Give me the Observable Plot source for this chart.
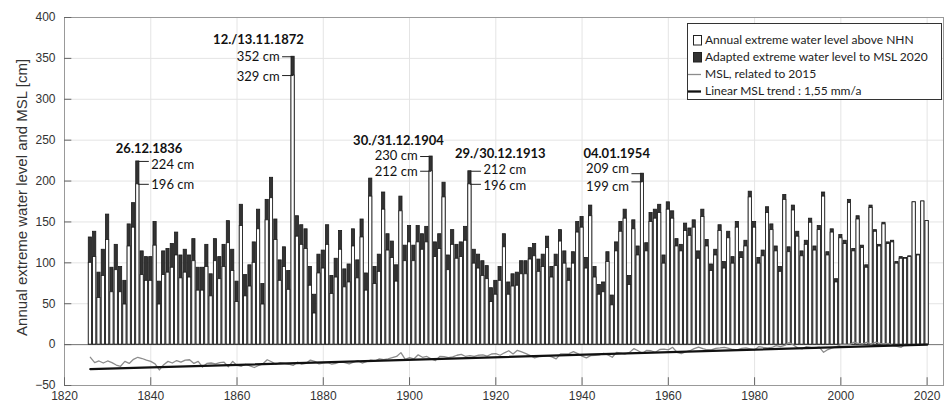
<!DOCTYPE html>
<html><head><meta charset="utf-8">
<script src="https://cdn.jsdelivr.net/npm/d3@7"></script>
<script src="https://cdn.jsdelivr.net/npm/@observablehq/plot@0.6"></script>
<style>
body{margin:0;background:#fff;}
#wrap{position:relative;width:946px;height:408px;overflow:hidden;}
#legend{position:absolute;left:687px;top:23px;width:255px;height:77px;border:1px solid #333;background:#fff;box-sizing:border-box;font-family:Lato,"Open Sans",sans-serif;font-size:12px;color:#222;}
#legend .row{position:absolute;left:0;height:16px;line-height:16px;white-space:nowrap;}
#legend .row span{position:absolute;left:17px;top:0;}
#legend .sym{position:absolute;}
</style></head><body>
<div id="wrap"></div>
<script>
// hydrological years 1826..2020
const firstYear = 1826, lastYear = 2020;
const rawLevel = [100,107,57,84,128,64,91,64,49,120,143,196,85,78,78,121,49,85,88,94,
109,81,88,82,102,66,66,95,59,102,80,95,124,90,52,145,59,71,100,141,
49,152,179,128,78,95,67,329,132,122,117,72,38,87,93,122,62,82,116,70,
76,120,81,131,66,181,74,89,165,115,106,77,163,102,125,102,125,116,125,212,
107,117,180,91,122,105,107,127,196,99,93,84,80,52,61,78,119,61,71,72,
86,86,104,108,89,95,118,82,96,126,99,78,99,137,143,93,157,82,61,64,
101,48,114,138,154,73,141,109,199,114,150,154,161,99,165,154,120,114,139,133,
143,105,156,120,90,109,139,93,130,99,143,106,120,180,143,99,108,161,140,114,
89,177,113,164,132,108,122,149,115,140,181,109,137,76,130,123,173,114,153,118,
94,167,138,120,147,123,125,99,105,105,107,174,109,175,151];
const adaptedLevel = [131,138,88,116,159,94,122,95,78,147,173,224,114,107,107,150,77,114,117,123,
137,109,116,109,129,94,94,122,86,129,107,122,151,116,77,171,85,97,125,165,
74,177,204,153,103,119,90,352,157,146,141,95,61,110,115,146,84,105,139,92,
98,141,103,153,87,203,95,110,186,135,126,97,181,121,145,121,145,135,144,230,
125,135,198,109,140,122,125,144,212,116,110,102,96,69,78,95,135,76,86,88,
102,102,118,123,104,110,132,95,110,140,114,93,113,150,156,106,170,95,73,76,
113,60,125,150,165,84,152,120,209,124,161,165,171,109,174,163,129,122,148,142,
152,114,165,128,98,116,146,101,138,107,150,113,127,187,150,106,115,168,147,120,
95,183,119,170,138,114,127,154,120,145,186,113,141,80,134,127,177,117,157,121,
97,170,140,122,149,125,127,101,107,106,108,174,110,175,151];
// mean sea level, related to 2015
const mslFirstYear = 1826;
const mslValue = [-15.5,-22,-20,-22.5,-20,-22,-25,-26.5,-20.5,-23,-18,-15.5,-17,-19,-20.5,-23.5,-31,-24.5,-20.5,-22.5,
-19.5,-21.5,-19,-18.5,-23,-20.5,-27.5,-23,-22.5,-23.5,-22,-21.5,-27,-20.5,-25.5,-26.5,-24,-26,-28,-25.5,
-23.5,-18.5,-21,-24,-22,-23,-24,-25.5,-21.5,-24,-22.8,-19,-20.5,-23.5,-22.5,-22,-24,-22.8,-21,-22,
-23.5,-21.5,-19.6,-22.5,-20.8,-19,-20,-17.5,-18.5,-17.5,-16,-14.5,-9.8,-18,-16,-17.5,-12.5,-15.5,-14.5,-17.5,
-19.6,-14.5,-14.7,-16,-15,-13,-12,-14.5,-13.5,-14.5,-13,-12.5,-14,-11.5,-11,-13,-10,-7.5,-11.4,-7,
-9,-11,-13.5,-16.3,-14.7,-14.5,-13.4,-15,-17.5,-11.4,-11.4,-11,-8.5,-11,-14,-16.3,-13.5,-13,-12.5,-10.6,
-12.5,-15.5,-9.5,-10.5,-11.5,-9.5,-5,-7.5,-10.6,-7,-7.5,-9.4,-6,-5.5,-6.5,-3.3,-9.4,-11,-9,-7.5,
-5,-3,-5,-6.3,-6.5,-4.5,-4,-3.3,-4.5,-6,-6.5,-4.5,-4.1,-5.3,-6.5,-2.4,-3.3,-4,-3.5,-1.2,
-2.4,-1,2.5,-0.5,-4,-5.3,-2.4,-3.5,-4.1,-3,-9.4,-6,-4,-2.4,0,0.4,0,2.9,1.5,0.8,
2.9,0.5,2.9,1.5,0.8,1.5,-1,-2,-3.3,0.8];
// linear MSL trend 1,55 mm/a
const trendYears = [1826, 2020];
const trendValues = [-30, 0];
// axis ticks
const xTickValues = [1820,1840,1860,1880,1900,1920,1940,1960,1980,2000,2020];
const yTickValues = [-50,0,50,100,150,200,250,300,350,400];
// storm surge annotations
const eventYears = [1837, 1873, 1905, 1914, 1954];
const eventNames = ["26.12.1836", "12./13.11.1872", "30./31.12.1904", "29./30.12.1913", "04.01.1954"];
const eventAdapted = [224, 352, 230, 212, 209];
const eventRaw = [196, 329, 212, 196, 199];
const legendLabels = ["Annual extreme water level above NHN","Adapted extreme water level to MSL 2020","MSL, related to 2015","Linear MSL trend : 1,55 mm/a"];

const bars = rawLevel.map((r,i)=>({year:firstYear+i, raw:r, adapted:adaptedLevel[i]}));
const msl = mslValue.map((v,i)=>({year:mslFirstYear+i, v}));
const trend = trendYears.map((y,i)=>({year:y, v:trendValues[i]}));
const events = eventYears.map((y,i)=>({year:y, name:eventNames[i], hi:eventAdapted[i], lo:eventRaw[i]}));

// label layout: side (+1 right, -1 left), px offsets
const layout = [
  {side: 1, ndx: -22, ndy: -13, hdy: 3, ldy: 1},
  {side:-1, ndx: -80, ndy: -17, hdy: 0, ldy: 1},
  {side:-1, ndx: -78, ndy: -16, hdy: -1, ldy: 1},
  {side: 1, ndx: -15, ndy: -17, hdy: -1, ldy: 1.5},
  {side:-1, ndx: -59, ndy: -20, hdy: -4.5, ldy: 4.5}
];
const ev = events.map((e,i)=>({...e, ...layout[i]}));
const valueLabels = (arr)=>arr.flatMap(e=>[{year:e.year,v:e.hi,t:e.hi+" cm",dy:e.hdy},{year:e.year,v:e.lo,t:e.lo+" cm",dy:e.ldy}]);
const leaders = ev.flatMap(e=>[e.hi,e.lo].map(v=>({x1:e.year, x2:e.year+e.side*2.55, v})));

// generic render helper: apply per-datum pixel offsets
const offsetRender = (getOff)=>function(index, scales, values, dims, ctx, next){
  const g = next(index, scales, values, dims, ctx);
  d3.select(g).selectAll("text").each(function(_,k){
    const i = index[k];
    const [ox, oy] = getOff(i);
    d3.select(this).attr("transform", `translate(${values.x[i]+ox},${values.y[i]+oy})`);
  });
  return g;
};

const annFont = "Lato, 'Open Sans', sans-serif";
const vR = valueLabels(ev.filter(e=>e.side>0));
const vL = valueLabels(ev.filter(e=>e.side<0));
const chart = Plot.plot({
  width:946, height:408,
  marginLeft:64, marginRight:3, marginTop:17, marginBottom:23,
  x:{domain:[1820, 2023.8]},
  y:{domain:[-50, 400]},
  style:{fontFamily:"'Liberation Sans', Arial, sans-serif", fontSize:"12px", color:"#333", background:"#fff"},
  marks:[
    Plot.ruleY(yTickValues, {stroke:"#e4e4e4"}),
    Plot.ruleX(xTickValues, {stroke:"#e4e4e4"}),
    Plot.ruleY([0], {stroke:"#777", strokeWidth:1}),
    Plot.rect(bars, {x1:d=>d.year-0.37, x2:d=>d.year+0.37, y1:0, y2:"adapted", fill:"#333", stroke:"#1a1a1a", strokeWidth:0.8}),
    Plot.rect(bars, {x1:d=>d.year-0.37, x2:d=>d.year+0.37, y1:0, y2:"raw", fill:"#fff", stroke:"#1a1a1a", strokeWidth:0.8}),
    Plot.line(msl, {x:"year", y:"v", stroke:"#8c8c8c", strokeWidth:1.3}),
    Plot.line(trend, {x:"year", y:"v", stroke:"#111", strokeWidth:2.3}),
    Plot.frame({stroke:"#999"}),
    Plot.ruleX(xTickValues, {y1:-50, y2:-40.5, stroke:"#666"}),
    Plot.ruleY(yTickValues, {x1:1820, x2:1821.7, stroke:"#666"}),
    Plot.axisX({ticks:xTickValues, tickSize:0, tickPadding:6, tickFormat:d=>String(d), label:null, fill:"#333"}),
    Plot.axisY({ticks:yTickValues, tickSize:0, tickPadding:9, label:null, fill:"#333"}),
    Plot.text(["Annual extreme water level and MSL [cm]"], {x:1820, y:180, dx:-42, rotate:-90, fontSize:15, fill:"#333", text:d=>d}),
    // annotations
    Plot.link(leaders, {x1:"x1", x2:"x2", y1:"v", y2:"v", stroke:"#222", strokeWidth:1}),
    Plot.text(vR, {x:"year", y:"v", text:"t", textAnchor:"start", fontFamily:annFont, fontSize:13, fill:"#111",
      render: offsetRender(i=>[13.5, vR[i].dy])}),
    Plot.text(vL, {x:"year", y:"v", text:"t", textAnchor:"end", fontFamily:annFont, fontSize:13, fill:"#111",
      render: offsetRender(i=>[-13.5, vL[i].dy])}),
    Plot.text(ev, {x:"year", y:"hi", text:"name", textAnchor:"start", fontFamily:annFont, fontSize:13, fontWeight:"bold", fill:"#111",
      render: offsetRender(i=>[ev[i].ndx, ev[i].ndy])})
  ]
});
const wrap = document.getElementById("wrap");
wrap.appendChild(chart);

// legend
const lg = document.createElement("div");
lg.id = "legend";
const rowsY = [8, 25, 42, 59];
legendLabels.forEach((t,i)=>{
  const r = document.createElement("div");
  r.className = "row";
  r.style.top = rowsY[i]+"px";
  let sym = "";
  if (i===0) sym = '<svg class="sym" style="left:5px;top:3px" width="10" height="11"><rect x="0.5" y="0.5" width="8" height="9.5" fill="#fff" stroke="#222"/></svg>';
  if (i===1) sym = '<svg class="sym" style="left:5px;top:3px" width="10" height="11"><rect x="0.5" y="0.5" width="8" height="9.5" fill="#333" stroke="#222"/></svg>';
  if (i===2) sym = '<svg class="sym" style="left:0px;top:7px" width="14" height="3"><line x1="0" x2="13" y1="1.5" y2="1.5" stroke="#8c8c8c" stroke-width="1.3"/></svg>';
  if (i===3) sym = '<svg class="sym" style="left:0px;top:7px" width="14" height="3"><line x1="0" x2="13" y1="1.5" y2="1.5" stroke="#111" stroke-width="2.3"/></svg>';
  r.innerHTML = sym + "<span>"+t+"</span>";
  lg.appendChild(r);
});
wrap.appendChild(lg);
</script>
</body></html>
